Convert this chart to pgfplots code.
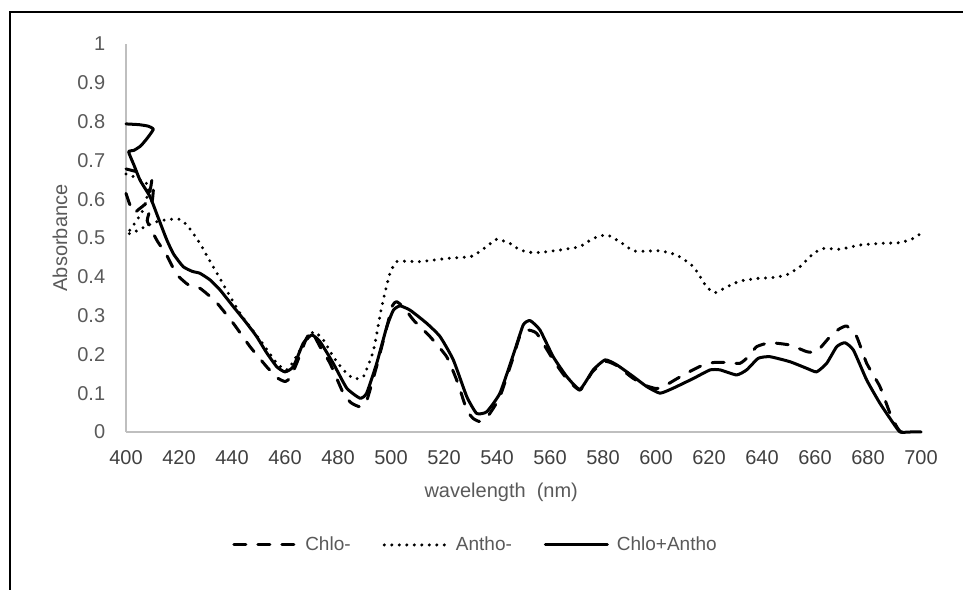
\documentclass[border=0pt]{standalone}
\usepackage{fontspec}
\setmainfont{Liberation Sans}
\usepackage{pgfplots}
\pgfplotsset{compat=1.18}
\definecolor{txtgray}{HTML}{595959}
\definecolor{xgray}{HTML}{404040}
\definecolor{axgray}{HTML}{BFBFBF}

\pgfplotsset{
  chlo/.style={black, line width=3bp, line cap=round, line join=round, dash pattern=on 12bp off 12bp},
  antho/.style={black, line width=3.3bp, line cap=round, line join=round, dash pattern=on 0bp off 7.5bp},
  both/.style={black, line width=3bp, line cap=round, line join=round},
}

\begin{document}
\fontsize{20bp}{24bp}\selectfont
\begin{tikzpicture}[x=1bp,y=1bp]
\useasboundingbox (0,0) rectangle (963,590);
\draw[line width=2bp] (10,0) -- (10,578) -- (963,578);
\begin{axis}[
  at={(126bp,158bp)}, anchor=south west,
  width=795bp, height=388bp, scale only axis,
  xmin=400, xmax=700, ymin=0, ymax=1,
  clip=false,
  xtick={400,420,440,460,480,500,520,540,560,580,600,620,640,660,680,700},
  ytick={0,0.1,0.2,0.3,0.4,0.5,0.6,0.7,0.8,0.9,1},
  yticklabels={0,0.1,0.2,0.3,0.4,0.5,0.6,0.7,0.8,0.9,1},
  axis x line*=bottom, axis y line*=left,
  axis line style={axgray, line width=1.5bp, -},
  major tick length=0pt,
  /pgf/number format/assume math mode=true,
  tick label style={font=\fontsize{20bp}{24bp}\selectfont},
  xticklabel style={text=xgray, yshift=-12bp},
  yticklabel style={text=txtgray, xshift=-14bp},
  xlabel={wavelength\ \ (nm)},
  ylabel={Absorbance},
  label style={font=\fontsize{20bp}{24bp}\selectfont, text=txtgray},
  xlabel style={at={(axis description cs:0.472,0)}, anchor=center, yshift=-60bp},
  ylabel style={at={(axis description cs:-0.083,0.5)}, anchor=center},
  legend columns=3,
  legend style={at={(axis description cs:0.4396,-0.291)}, anchor=center, draw=none,
    font=\fontsize{19bp}{23bp}\selectfont, text=txtgray,
    /tikz/every even column/.append style={column sep=30bp},
    /tikz/every odd column/.append style={column sep=6bp}},
  legend image code/.code={\draw[#1] (0bp,0bp) -- (62bp,0bp);},
]
% Chlo-
\addplot[chlo, smooth, tension=0.3] coordinates {
(400,0.615)(401.5,0.585)(403,0.565)(405,0.575)(407.5,0.59)(409.3,0.63)(409.8,0.65)(410.5,0.645)
(410,0.60)(408.5,0.56)(408,0.545)(409,0.528)(412,0.49)(415,0.46)(418,0.42)(420,0.40)(423.4,0.38)
(428,0.37)(434,0.335)(440.5,0.28)(446.8,0.22)(453.1,0.168)(457,0.14)(460,0.13)(462,0.14)(464.4,0.177)
(468,0.24)(470.1,0.258)(473.2,0.22)(477,0.177)(482,0.10)(485,0.075)(488.3,0.065)(490.8,0.08)(494.6,0.17)
(498.4,0.27)(500.5,0.325)(502.1,0.336)(505,0.32)(508.4,0.289)(514.7,0.246)(521,0.194)(525,0.13)
(528.6,0.057)(531,0.035)(533.6,0.027)(537,0.045)(541.1,0.091)(546,0.19)(548.5,0.245)(551.2,0.263)
(555,0.254)(561.2,0.186)(566,0.14)(571.3,0.108)(576,0.155)(580.8,0.182)(585,0.172)(591,0.14)(596,0.12)
(600,0.112)(602.8,0.117)(610.3,0.147)(616.6,0.169)(621.6,0.179)(626.7,0.179)(631.7,0.177)(635,0.195)
(638,0.22)(643,0.23)(650.6,0.224)(656.9,0.207)(660.6,0.207)(665.7,0.246)(669,0.265)(672,0.273)
(675.7,0.246)(679.5,0.177)(684.5,0.117)(688.3,0.048)(690.8,0.014)(692.5,0.0)(697,0.0)
};
\addlegendentry{Chlo-}
% Antho-
\addplot[antho, smooth, tension=0.3] coordinates {
(400,0.665)(404,0.655)(408.5,0.635)(407,0.58)(404,0.545)(402,0.525)(400.3,0.51)(403,0.515)(406,0.525)
(409,0.535)(411.6,0.542)(416,0.548)(420.4,0.548)(423.4,0.53)(427.9,0.486)(431.7,0.44)(435.5,0.395)
(443,0.306)(450.6,0.237)(456.9,0.177)(460.6,0.16)(463,0.18)(465.7,0.211)(470.7,0.258)(474.5,0.237)
(478.2,0.194)(482,0.16)(485.8,0.138)(489.6,0.143)(493.4,0.211)(496.5,0.323)(499.6,0.409)(502.1,0.439)
(506,0.44)(510.9,0.439)(516,0.443)(522.3,0.448)(527,0.45)(531,0.454)(536.1,0.478)(539.9,0.497)
(544.9,0.486)(548.7,0.469)(553.7,0.462)(558,0.464)(563.8,0.469)(571.3,0.478)(576.3,0.499)(581.4,0.508)
(586.4,0.49)(591.4,0.467)(596,0.466)(601.5,0.467)(607.8,0.456)(614.1,0.426)(619.1,0.374)(622.3,0.359)
(626.7,0.374)(631.7,0.389)(638.6,0.396)(644,0.398)(649.3,0.405)(654.3,0.426)(659.4,0.46)(663.1,0.473)
(669.4,0.471)(677,0.482)(684.5,0.486)(692.1,0.488)(697.1,0.499)(700,0.512)
};
\addlegendentry{Antho-}
% Chlo+Antho
\addplot[both, smooth, tension=0.3] coordinates {
(400,0.794)(405,0.792)(408.5,0.788)(410.3,0.780)(408,0.757)(405.5,0.737)(403,0.726)(401,0.722)
(403,0.688)(405.3,0.649)(409.1,0.606)(412,0.555)(415.4,0.495)(418,0.458)(421.6,0.426)(425,0.414)
(427.9,0.409)(431.7,0.392)(435.5,0.366)(440.5,0.323)(445,0.285)(449.3,0.246)(453,0.205)(456.9,0.168)
(460,0.155)(463.1,0.168)(466.9,0.229)(470.1,0.250)(473.2,0.233)(478.2,0.177)(483.3,0.113)(488.3,0.087)
(490.8,0.100)(494.6,0.177)(498.4,0.271)(500.9,0.314)(503.4,0.325)(507.2,0.314)(513.5,0.280)(518.5,0.246)
(523.5,0.186)(528.6,0.091)(532.3,0.048)(536.1,0.052)(541.1,0.100)(546.2,0.200)(549.9,0.276)(552.5,0.287)
(556.2,0.263)(561.2,0.194)(566.3,0.143)(571.3,0.110)(576.3,0.160)(580.8,0.186)(585.2,0.173)(591.4,0.143)
(596.5,0.117)(601.5,0.100)(606.5,0.113)(614.1,0.138)(620.4,0.160)(624.2,0.160)(630.4,0.147)(634.2,0.160)
(638.6,0.190)(643,0.194)(650.6,0.181)(656.9,0.164)(660.6,0.155)(664.4,0.177)(668.2,0.220)(671.3,0.230)
(674.5,0.211)(679.5,0.134)(684.5,0.074)(689.6,0.022)(692.1,0.0)(696,0.0)(700,0.0)
};
\addlegendentry{Chlo+Antho}
\addplot[both, forget plot] coordinates {(400,0.678)(404,0.671)};
\end{axis}
\end{tikzpicture}
\end{document}
